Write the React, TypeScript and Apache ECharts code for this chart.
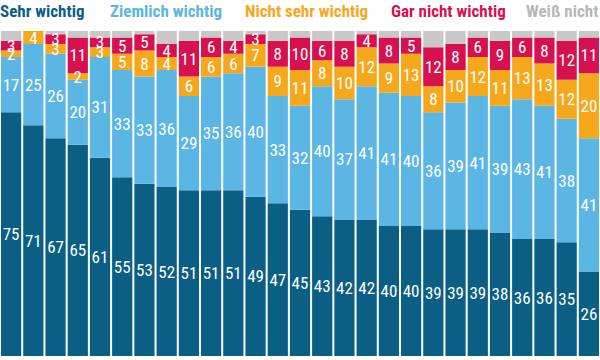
import React, { useEffect, useRef } from "react";
import * as echarts from "echarts";

const categories = Array.from({ length: 27 }, (_, i) => `Land ${i + 1}`);
const sehrWichtig = [75, 71, 67, 65, 61, 55, 53, 52, 51, 51, 51, 49, 47, 45, 43, 42, 42, 40, 40, 39, 39, 39, 38, 36, 36, 35, 26];
const ziemlichWichtig = [17, 25, 26, 20, 31, 33, 33, 36, 29, 35, 36, 40, 33, 32, 40, 37, 41, 41, 40, 36, 39, 41, 39, 43, 41, 38, 41];
const nichtSehrWichtig = [2, 4, 3, 2, 3, 5, 8, 4, 6, 6, 6, 7, 9, 11, 8, 10, 12, 9, 13, 8, 10, 12, 11, 13, 13, 12, 20];
const garNichtWichtig = [3, 0, 3, 11, 3, 5, 5, 4, 11, 6, 4, 3, 8, 10, 6, 8, 4, 8, 5, 12, 8, 6, 9, 6, 8, 12, 11];
const weissNicht = [3, 0, 1, 2, 2, 2, 1, 4, 3, 2, 3, 1, 3, 2, 3, 3, 1, 2, 2, 5, 4, 2, 3, 2, 2, 3, 2];
const seriesNames = ["Sehr wichtig", "Ziemlich wichtig", "Nicht sehr wichtig", "Gar nicht wichtig", "Weiß nicht"];

const COLORS = ["#0b5e84", "#5cb6e3", "#f6a81c", "#d7104f", "#c8c8c8"];
const LEGEND_TEXT = ["#0b5e84", "#5cb6e3", "#f6a81c", "#d7104f", "#b8b8b8"];
const LEGEND_X = [0, 110, 245, 391, 526];
const FONT = "'Roboto Condensed', 'DejaVu Sans Condensed', sans-serif";

export default function App() {
  const ref = useRef<HTMLDivElement>(null);
  useEffect(() => {
    document.body.style.margin = "0";
    const chart = echarts.init(ref.current!, undefined, { renderer: "svg" });
    const data = [sehrWichtig, ziemlichWichtig, nichtSehrWichtig, garNichtWichtig, weissNicht];
    chart.setOption({
      animation: false,
      grid: { left: 0, right: 0, top: 31, bottom: 4, containLabel: false },
      xAxis: {
        type: "category",
        data: categories,
        show: false,
      },
      yAxis: { type: "value", min: 0, max: 100, show: false },
      graphic: seriesNames.map((n, i) => ({
        type: "text",
        left: LEGEND_X[i],
        top: 2,
        style: {
          text: n,
          fill: LEGEND_TEXT[i],
          font: `bold 17px ${FONT}`,
        },
      })),
      series: data.map((vals, i) => ({
        name: seriesNames[i],
        type: "bar",
        stack: "total",
        data: vals,
        barCategoryGap: "9%",
        itemStyle: { color: COLORS[i] },
        label: {
          show: i < 4,
          position: "inside",
          color: "#ffffff",
          fontFamily: FONT,
          fontSize: 17,
          formatter: (p: any) => (p.value > 0 ? String(p.value) : ""),
        },
      })),
    });
    return () => chart.dispose();
  }, []);
  return <div ref={ref} style={{ width: 600, height: 360 }} />;
}
